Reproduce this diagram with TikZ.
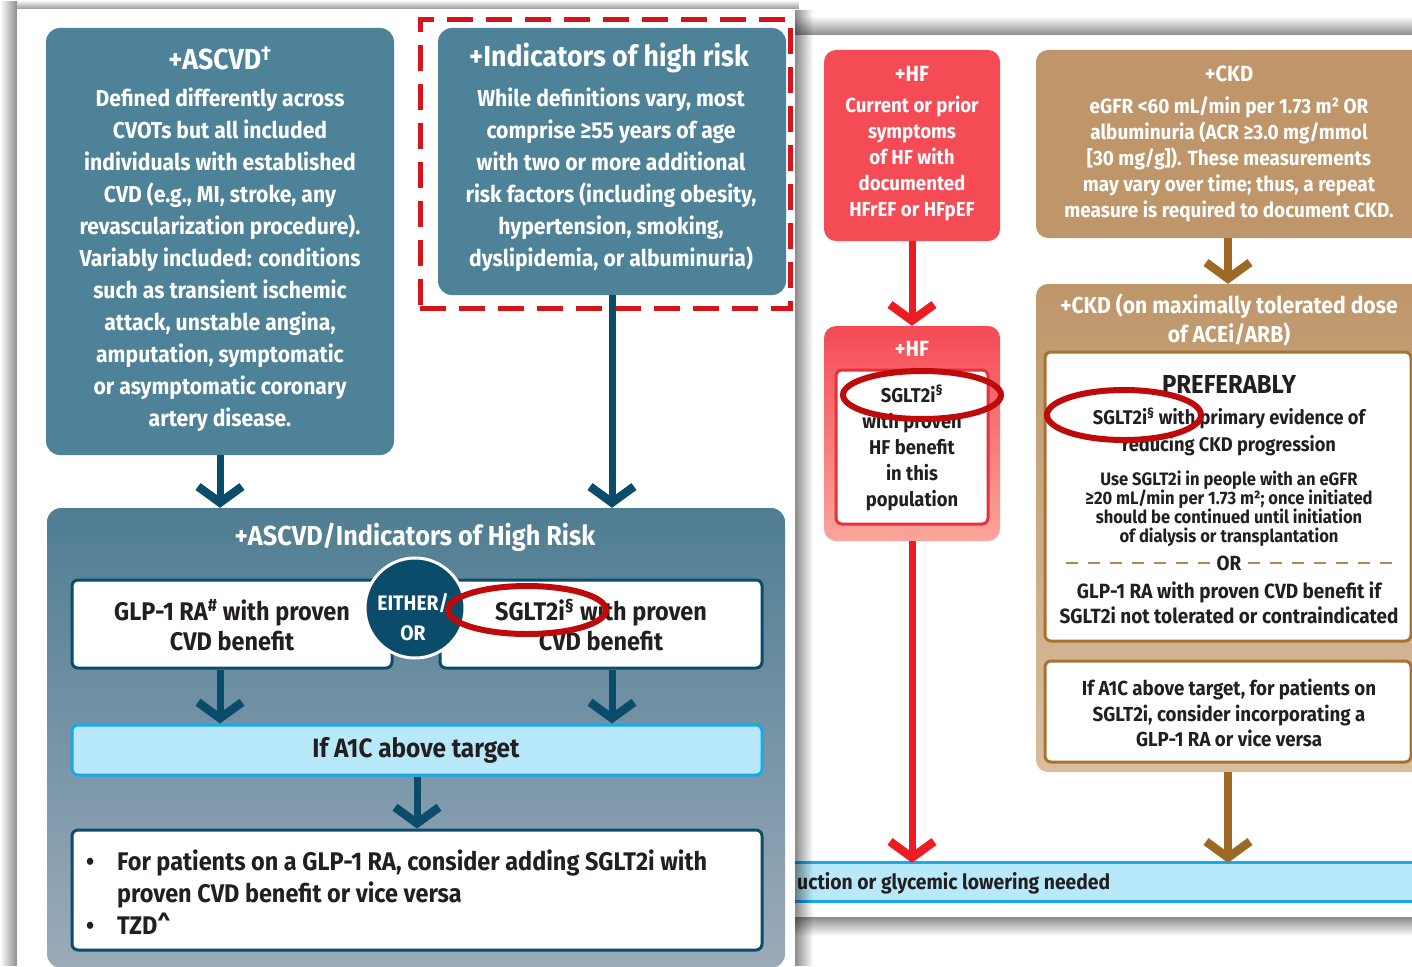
\documentclass[tikz,border=0pt]{standalone}
\usepackage{fontspec}
\setmainfont{Fira Sans}[FakeStretch=0.92]
\usetikzlibrary{arrows.meta,fadings}
\definecolor{teal1}{RGB}{78,130,153}
\definecolor{tealdk}{RGB}{10,76,106}
\definecolor{bigtop}{RGB}{79,125,146}
\definecolor{bigbot}{RGB}{156,171,186}
\definecolor{hfred}{RGB}{245,75,85}
\definecolor{hfbot}{RGB}{250,165,155}
\definecolor{arrred}{RGB}{237,28,36}
\definecolor{inred}{RGB}{232,48,58}
\definecolor{tan1}{RGB}{190,150,106}
\definecolor{tanbot}{RGB}{216,189,158}
\definecolor{brown1}{RGB}{156,106,36}
\definecolor{brownln}{RGB}{166,115,50}
\definecolor{dashtan}{RGB}{176,136,80}
\definecolor{lblue}{RGB}{184,233,250}
\definecolor{bblue}{RGB}{20,170,235}
\definecolor{ellred}{RGB}{190,10,10}
\definecolor{dashred}{RGB}{215,20,25}
\definecolor{txtdk}{RGB}{35,31,32}
\tikzfading[name=fadeR, left color=transparent!0, right color=transparent!100]
\tikzfading[name=fadeL, left color=transparent!100, right color=transparent!0]
\tikzfading[name=fadeUp, top color=transparent!100, bottom color=transparent!0]
\tikzfading[name=fadeDown, top color=transparent!0, bottom color=transparent!100]
\newcommand{\fz}[2]{\fontsize{#1}{#2}\selectfont\bfseries}
\begin{document}
\begin{tikzpicture}[x=1pt,y=-1pt,
  box/.style={rectangle, inner sep=0pt, rounded corners=#1},
  wt/.style={inner sep=0pt, align=center, text=white},
  dk/.style={inner sep=0pt, align=center, text=txtdk},
  chev/.style={line width=7pt, -{Straight Barb[length=16pt,width=44pt,line width=8.5pt,sharp]}},
  ell/.style={draw=ellred, line width=6pt},
  tandash/.style={dashtan, line width=2.5pt, dash pattern=on 12pt off 10pt}]
\clip (0,0) rectangle (1412,966);
\fill[white] (0,0) rectangle (1412,966);
% ---------- right panel ----------
\fill[black, opacity=0.45, path fading=fadeUp] (795,16) rectangle (1412,35);
\fill[black, opacity=0.45, path fading=fadeDown] (795,917) rectangle (1412,936);
\node[box=12pt, fill=hfred, minimum width=176pt, minimum height=191pt] (hf1) at (912,145.5) {};
\node[wt, font=\fz{22}{26}] (hf1t) at (912,74) {+HF};
\node[wt, font=\fz{20.3}{26}] (hf1b) at (912,159) {Current or prior\\symptoms\\of HF with\\documented\\HFrEF or HFpEF};
\node[box=12pt, top color=hfred, bottom color=hfbot, minimum width=176pt, minimum height=215pt] (hf2) at (912,433.5) {};
\node[wt, font=\fz{22}{26}] (hf2t) at (912,349) {+HF};
\node[box=6pt, fill=white, draw=inred, line width=3pt, minimum width=152pt, minimum height=154pt] (hfin) at (912,447) {};
\node[dk, font=\fz{20}{26}] (hfint) at (912,448) {SGLT2i\textsuperscript{§}\\with proven\\HF benefit\\in this\\population};
\node[box=12pt, fill=tan1, minimum width=394pt, minimum height=188pt] (ckd1) at (1233,144) {};
\node[wt, font=\fz{22}{26}] (ckd1t) at (1229,74) {+CKD};
\node[wt, font=\fz{20.6}{26}] (ckd1b) at (1229,159) {eGFR <60 mL/min per 1.73 m² OR\\albuminuria (ACR ≥3.0 mg/mmol\\{[}30 mg/g{]}). These measurements\\may vary over time; thus, a repeat\\measure is required to document CKD.};
\node[box=12pt, top color=tan1, bottom color=tanbot, minimum width=394pt, minimum height=488pt] (ckd2) at (1233,528) {};
\node[wt, font=\fz{23}{29}] (ckd2t) at (1229,320) {+CKD (on maximally tolerated dose\\of ACEi/ARB)};
\node[box=6pt, fill=white, draw=brownln, line width=3pt, minimum width=366pt, minimum height=289pt] (ckdin1) at (1228,496.5) {};
\node[dk, font=\fz{26}{28}] (pref) at (1229,384) {PREFERABLY};
\node[dk, font=\fz{19.8}{27}] (prefa) at (1229,432) {SGLT2i\textsuperscript{§} with primary evidence of\\reducing CKD progression};
\node[dk, font=\fz{18}{19}] (prefb) at (1229,508.5) {Use SGLT2i in people with an eGFR\\≥20 mL/min per 1.73 m²; once initiated\\should be continued until initiation\\of dialysis or transplantation};
\coordinate (dl1) at (1066,563); \coordinate (dl2) at (1212,563);
\coordinate (dr1) at (1248,563); \coordinate (dr2) at (1394,563);
\draw[tandash] (dl1) -- (dl2);
\draw[tandash] (dr1) -- (dr2);
\node[dk, font=\fz{20.5}{25}] (orr) at (1229,563) {OR};
\node[dk, font=\fz{20.6}{25}] (glpb) at (1229,602.5) {GLP-1 RA with proven CVD benefit if\\SGLT2i not tolerated or contraindicated};
\node[box=6pt, fill=white, draw=brownln, line width=3pt, minimum width=366pt, minimum height=101pt] (ckdin2) at (1228,711.5) {};
\node[dk, font=\fz{20.3}{25.5}] (ckdin2t) at (1229,713) {If A1C above target, for patients on\\SGLT2i, consider incorporating a\\GLP-1 RA or vice versa};
\node[rectangle, inner sep=0pt, fill=lblue, minimum width=650pt, minimum height=38pt] (band) at (1105,882) {};
\draw[bblue, line width=3pt] (band.north west) -- (band.north east);
\draw[bblue, line width=3pt] (band.south west) -- (band.south east);
\node[dk, anchor=west, font=\fz{21}{25}] (bandt) at (797,883) {uction or glycemic lowering needed};
% right arrows
\draw[arrred, chev] (hf1.south) -- (hf2.north);
\draw[arrred, chev] (hf2.south) -- (hf2.south |- band.north);
\draw[brown1, chev, line width=8pt] (ckdin1.north |- ckd1.south) -- (ckdin1.north |- ckd2.north);
\draw[brown1, chev, line width=8pt] (ckdin1.north |- ckd2.south) -- (ckdin1.north |- band.north);
% ellipses right
\draw[ell] (922,395) ellipse [x radius=79, y radius=24];
\draw[ell] (1124,415) ellipse [x radius=77, y radius=25];
% ---------- left panel ----------
\fill[white] (17,9) rectangle (795,966);
\fill[black, opacity=0.45, path fading=fadeL] (0,0) rectangle (17,966);
\fill[black, opacity=0.4, path fading=fadeUp] (17,0) rectangle (800,9);
\fill[black, opacity=0.45, path fading=fadeR] (795,9) rectangle (813,966);
\node[box=14pt, fill=teal1, minimum width=348pt, minimum height=427pt] (ascvd) at (220,241.5) {};
\node[wt, font=\fz{29}{30}] (ascvdt) at (220,58) {+ASCVD\textsuperscript{†}};
\node[wt, font=\fz{23}{32}] (ascvdb) at (220,260) {Defined differently across\\CVOTs but all included\\individuals with established\\CVD (e.g., MI, stroke, any\\revascularization procedure).\\Variably included: conditions\\such as transient ischemic\\attack, unstable angina,\\amputation, symptomatic\\or asymptomatic coronary\\artery disease.};
\node[box=14pt, fill=teal1, minimum width=348pt, minimum height=267pt] (indic) at (612,161.5) {};
\node[wt, font=\fz{29}{30}] (indict) at (609,58) {+Indicators of high risk};
\node[wt, font=\fz{23}{32}] (indicb) at (611,180) {While definitions vary, most\\comprise ≥55 years of age\\with two or more additional\\risk factors (including obesity,\\hypertension, smoking,\\dyslipidemia, or albuminuria)};
\node[rectangle, inner sep=0pt, draw=dashred, line width=5pt, dash pattern=on 26pt off 13pt, minimum width=370pt, minimum height=288pt] (hirisk) at (605,164) {};
\node[box=14pt, top color=bigtop, bottom color=bigbot, minimum width=738pt, minimum height=460pt] (big) at (416,738) {};
\node[wt, font=\fz{27.5}{30}] (bigt) at (415,537) {+ASCVD/Indicators of High Risk};
\node[box=6pt, fill=white, draw=tealdk, line width=3pt, minimum width=320pt, minimum height=88pt] (glp) at (232,624) {};
\node[box=6pt, fill=white, draw=tealdk, line width=3pt, minimum width=322pt, minimum height=88pt] (sglt) at (601,624) {};
\node[dk, font=\fz{25.5}{30}] (glpt) at (232,625) {GLP-1 RA\textsuperscript{\#} with proven\\CVD benefit};
\node[dk, font=\fz{25.5}{30}] (sgltt) at (601,625) {SGLT2i\textsuperscript{§} with proven\\CVD benefit};
\node[circle, fill=tealdk, draw=white, line width=3pt, minimum size=100pt, inner sep=0pt] (either) at (415,608) {};
\node[wt, font=\fz{21}{30}] (eithert) at (413,617) {EITHER/\\OR};
\node[box=6pt, fill=lblue, draw=bblue, line width=3pt, minimum width=690pt, minimum height=50pt] (a1c) at (417,750) {};
\node[dk, font=\fz{26.5}{30}] (a1ct) at (416,750) {If A1C above target};
\node[box=6pt, fill=white, draw=tealdk, line width=3pt, minimum width=690pt, minimum height=120pt] (tzd) at (417,890) {};
\node[dk, align=left, anchor=west, font=\fz{25.5}{32}] (tzdt) at (86,892) {\makebox[31pt][l]{•}For patients on a GLP-1 RA, consider adding SGLT2i with\\\hspace*{31pt}proven CVD benefit or vice versa\\\makebox[31pt][l]{•}TZD\textasciicircum};
% left arrows
\draw[tealdk, chev] (ascvd.south) -- (ascvd.south |- big.north);
\draw[tealdk, chev] (indic.south) -- (indic.south |- big.north);
\draw[tealdk, chev] (ascvd.south |- glp.south) -- (ascvd.south |- a1c.north);
\draw[tealdk, chev] (indic.south |- sglt.south) -- (indic.south |- a1c.north);
\draw[tealdk, chev] (a1c.south) -- (tzd.north);
\draw[ell] (527,610) ellipse [x radius=79, y radius=24];
\end{tikzpicture}
\end{document}
